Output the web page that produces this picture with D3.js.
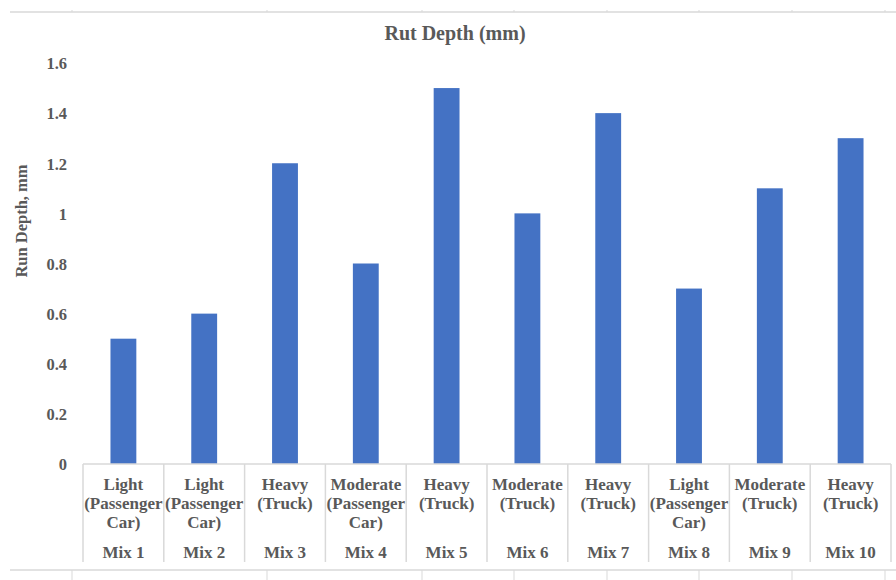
<!DOCTYPE html>
<html>
<head>
<meta charset="utf-8">
<script src="https://cdn.jsdelivr.net/npm/d3@7"></script>
<style>
  html, body { margin: 0; padding: 0; background: #fff; }
  svg { display: block; }
  text { font-family: "Liberation Serif", "Times New Roman", serif; font-weight: bold; fill: #595959; }
</style>
</head>
<body>
<svg id="chart" width="896" height="580"></svg>
<script>
// Rut depth per mix, with the traffic level of each mix
const mixes = ["Mix 1", "Mix 2", "Mix 3", "Mix 4", "Mix 5", "Mix 6", "Mix 7", "Mix 8", "Mix 9", "Mix 10"];
const traffic = [
  ["Light", "(Passenger", "Car)"],
  ["Light", "(Passenger", "Car)"],
  ["Heavy", "(Truck)"],
  ["Moderate", "(Passenger", "Car)"],
  ["Heavy", "(Truck)"],
  ["Moderate", "(Truck)"],
  ["Heavy", "(Truck)"],
  ["Light", "(Passenger", "Car)"],
  ["Moderate", "(Truck)"],
  ["Heavy", "(Truck)"]
];
const rutDepth = [0.5, 0.6, 1.2, 0.8, 1.5, 1.0, 1.4, 0.7, 1.1, 1.3];
const yTicks = [0, 0.2, 0.4, 0.6, 0.8, 1, 1.2, 1.4, 1.6];

const svg = d3.select("#chart");
const frameColor = "#d9d9d9";
const gridColor = "#d9d9d9";

// Surrounding frame lines with small cell marks
const frameMarks = [72, 267, 422, 514, 607, 699, 792, 885];
svg.append("line").attr("x1", 10).attr("x2", 896).attr("y1", 12).attr("y2", 12)
  .attr("stroke", frameColor).attr("stroke-width", 1.5);
svg.append("line").attr("x1", 10).attr("x2", 896).attr("y1", 570).attr("y2", 570)
  .attr("stroke", frameColor).attr("stroke-width", 1.5);
frameMarks.forEach(x => {
  svg.append("line").attr("x1", x).attr("x2", x).attr("y1", 10).attr("y2", 12)
    .attr("stroke", frameColor).attr("stroke-width", 1);
  svg.append("line").attr("x1", x).attr("x2", x).attr("y1", 570).attr("y2", 580)
    .attr("stroke", frameColor).attr("stroke-width", 1);
});

// Scales
const x = d3.scaleBand().domain(mixes).range([83, 891]).paddingInner(0).paddingOuter(0);
const y = d3.scaleLinear().domain([0, 1.6]).range([464, 63]);
const barWidth = x.bandwidth() * 0.32;

// Title
svg.append("text").attr("x", 455).attr("y", 40).attr("text-anchor", "middle")
  .style("font-size", "20px").text("Rut Depth (mm)");

// Y axis tick labels
const yAxis = d3.axisLeft(y).tickValues(yTicks).tickSize(0).tickPadding(0)
  .tickFormat(d => d3.format("")(+d.toFixed(1)));
const gy = svg.append("g").attr("transform", "translate(67,0)").call(yAxis);
gy.select(".domain").remove();
gy.selectAll("text").style("font-size", "16.5px").attr("fill", "#595959")
  .style("font-family", '"Liberation Serif", serif').attr("dy", "0.35em");

// Y axis title
svg.append("text").attr("transform", "translate(27,221) rotate(-90)")
  .attr("text-anchor", "middle").style("font-size", "16.5px").text("Run Depth, mm");

// Bars
svg.append("g").selectAll("rect").data(rutDepth).join("rect")
  .attr("x", (d, i) => x(mixes[i]) + (x.bandwidth() - barWidth) / 2)
  .attr("width", barWidth)
  .attr("y", d => y(d))
  .attr("height", d => y(0) - y(d))
  .attr("fill", "#4472C4");

// Category axis: baseline and label cells
svg.append("line").attr("x1", x.range()[0]).attr("x2", x.range()[1])
  .attr("y1", y(0)).attr("y2", y(0)).attr("stroke", gridColor).attr("stroke-width", 1.5);
const edges = mixes.map(m => x(m)).concat([x.range()[1]]);
svg.append("g").selectAll("line").data(edges).join("line")
  .attr("x1", d => d).attr("x2", d => d).attr("y1", y(0)).attr("y2", 562)
  .attr("stroke", gridColor).attr("stroke-width", 1.5);

const labels = svg.append("g").selectAll("g").data(mixes).join("g")
  .attr("transform", d => `translate(${x(d) + x.bandwidth() / 2},0)`);
labels.each(function (m, i) {
  const g = d3.select(this);
  traffic[i].forEach((line, j) => {
    g.append("text").attr("y", 490 + j * 19).attr("text-anchor", "middle")
      .style("font-size", "17px").text(line);
  });
  g.append("text").attr("y", 558).attr("text-anchor", "middle")
    .style("font-size", "17px").text(m);
});
</script>
</body>
</html>
